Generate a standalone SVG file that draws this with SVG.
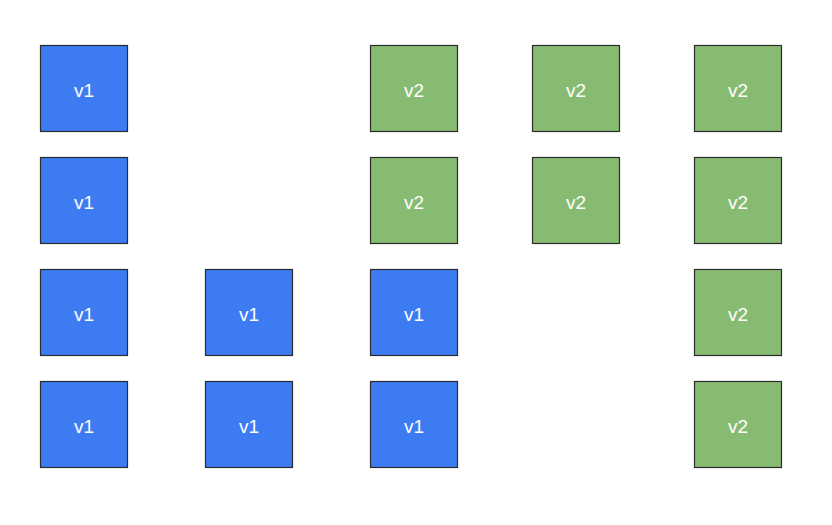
<svg xmlns="http://www.w3.org/2000/svg" width="832" height="525" viewBox="0 0 832 525">
<style>
.b rect{stroke:#2b2b2b;stroke-width:1.2}
.v1 rect{fill:#3c7bf2}
.v2 rect{fill:#88bb72}
text{font-family:"Liberation Sans",Arial,sans-serif;font-size:19px;fill:#ffffff;text-anchor:middle;dominant-baseline:central}
</style>
<rect width="832" height="525" fill="#ffffff"/>
<g id="n1" class="b v1"><rect x="40.5" y="45.5" width="87" height="86"/><text x="84" y="90">v1</text></g>
<g id="n2" class="b v1"><rect x="40.5" y="157.5" width="87" height="86"/><text x="84" y="202">v1</text></g>
<g id="n3" class="b v1"><rect x="40.5" y="269.5" width="87" height="86"/><text x="84" y="314">v1</text></g>
<g id="n4" class="b v1"><rect x="40.5" y="381.5" width="87" height="86"/><text x="84" y="426">v1</text></g>
<g id="n5" class="b v1"><rect x="205.5" y="269.5" width="87" height="86"/><text x="249" y="314">v1</text></g>
<g id="n6" class="b v1"><rect x="205.5" y="381.5" width="87" height="86"/><text x="249" y="426">v1</text></g>
<g id="n7" class="b v2"><rect x="370.5" y="45.5" width="87" height="86"/><text x="414" y="90">v2</text></g>
<g id="n8" class="b v2"><rect x="370.5" y="157.5" width="87" height="86"/><text x="414" y="202">v2</text></g>
<g id="n9" class="b v1"><rect x="370.5" y="269.5" width="87" height="86"/><text x="414" y="314">v1</text></g>
<g id="n10" class="b v1"><rect x="370.5" y="381.5" width="87" height="86"/><text x="414" y="426">v1</text></g>
<g id="n11" class="b v2"><rect x="532.5" y="45.5" width="87" height="86"/><text x="576" y="90">v2</text></g>
<g id="n12" class="b v2"><rect x="532.5" y="157.5" width="87" height="86"/><text x="576" y="202">v2</text></g>
<g id="n13" class="b v2"><rect x="694.5" y="45.5" width="87" height="86"/><text x="738" y="90">v2</text></g>
<g id="n14" class="b v2"><rect x="694.5" y="157.5" width="87" height="86"/><text x="738" y="202">v2</text></g>
<g id="n15" class="b v2"><rect x="694.5" y="269.5" width="87" height="86"/><text x="738" y="314">v2</text></g>
<g id="n16" class="b v2"><rect x="694.5" y="381.5" width="87" height="86"/><text x="738" y="426">v2</text></g>
<g id="connectors"></g>
</svg>
